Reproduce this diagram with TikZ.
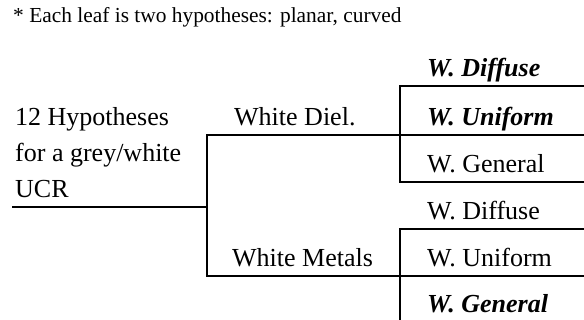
\documentclass[tikz,border=0pt]{standalone}
\usepackage{fontspec}
\setmainfont{Liberation Serif}
\begin{document}
\begin{tikzpicture}[x=1pt,y=-1pt,
  txt/.style={anchor=base west,inner sep=0pt,font=\fontsize{26}{30}\selectfont},
  hl/.style={txt,font=\fontsize{26}{30}\selectfont\bfseries\itshape},
  note/.style={anchor=base west,inner sep=0pt,font=\fontsize{21.4}{25}\selectfont},
  rule/.style={line width=2.4pt,line cap=rect}]
\useasboundingbox (0,0) rectangle (584,320);

% heading
\node[note] (hdr) at (13,23) {* Each leaf is two hypotheses: planar, curved};

% root label
\node[txt] (r1) at (15,126) {12 Hypotheses};
\node[txt] (r2) at (15,162) {for a grey/white};
\node[txt] (r3) at (15,198) {UCR};

% second level
\node[txt] (diel) at (234,126) {White Diel.};
\node[txt] (metal) at (232,267) {White Metals};

% leaves under White Diel.
\node[hl]  (d1) at (427,77)  {W. Diffuse};
\node[hl]  (d2) at (427,126) {W. Uniform};
\node[txt] (d3) at (427,173) {W. General};

% leaves under White Metals
\node[txt] (m1) at (427,220) {W. Diffuse};
\node[txt] (m2) at (427,267) {W. Uniform};
\node[hl]  (m3) at (427,313) {W. General};

% junction points
\coordinate (rootL) at (13,207);
\coordinate (rootJ) at (207,207);
\coordinate (dielJ) at (207,135);
\coordinate (metJ)  at (207,276);
\coordinate (dielE) at (583,135);
\coordinate (metE)  at (583,276);
\coordinate (b1T) at (400,86);
\coordinate (b1TE) at (583,86);
\coordinate (b1B) at (400,182);
\coordinate (b1BE) at (583,182);
\coordinate (b2T) at (400,229);
\coordinate (b2TE) at (583,229);
\coordinate (b2B) at (400,321);

% tree rules
\draw[rule] (rootL) -- (rootJ);
\draw[rule] (dielJ) -- (metJ);
\draw[rule] (dielJ) -- (dielE);
\draw[rule] (metJ) -- (metE);
\draw[rule] (b1TE) -- (b1T) -- (b1B) -- (b1BE);
\draw[rule] (b2TE) -- (b2T) -- (b2B);
\end{tikzpicture}
\end{document}
